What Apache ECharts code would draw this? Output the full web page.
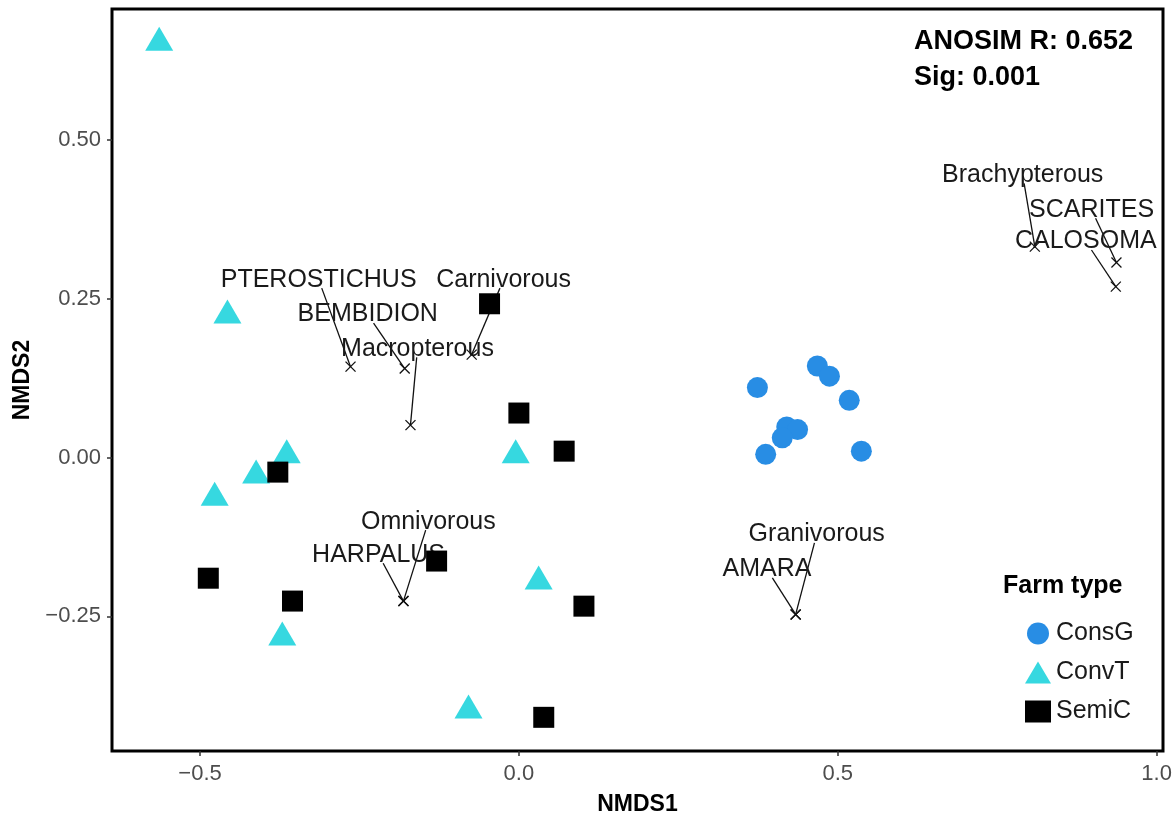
<!DOCTYPE html>
<html>
<head>
<meta charset="utf-8">
<script src="https://cdn.jsdelivr.net/npm/echarts@6/dist/echarts.min.js"></script>
<style>html,body{margin:0;padding:0;background:#fff}#c{width:1176px;height:815px}</style>
</head>
<body>
<div id="c"></div>
<script>
// ---- Data (NMDS site scores) ----
const consG_x = [0.374, 0.468, 0.487, 0.518, 0.420, 0.437, 0.413, 0.387, 0.537];
const consG_y = [0.110, 0.144, 0.128, 0.090, 0.048, 0.044, 0.031, 0.005, 0.010];

const convT_x = [-0.564, -0.457, -0.364, -0.412, -0.477, -0.371, -0.079, -0.005, 0.031];
const convT_y = [0.659, 0.230, 0.010, -0.022, -0.057, -0.277, -0.392, 0.010, -0.189];

const semiC_x = [-0.046, 0.000, 0.071, -0.378, -0.487, -0.355, -0.129, 0.102, 0.039];
const semiC_y = [0.242, 0.070, 0.010, -0.023, -0.190, -0.226, -0.163, -0.234, -0.409];

// ---- Fitted taxa / traits (arrow tips) and their repelled label anchors ----
const traitNames  = ['PTEROSTICHUS', 'BEMBIDION', 'Macropterous', 'Carnivorous', 'Omnivorous', 'HARPALUS', 'Granivorous', 'AMARA', 'Brachypterous', 'SCARITES', 'CALOSOMA'];
const traitX      = [-0.264, -0.179, -0.170, -0.074, -0.181, -0.181, 0.434, 0.434, 0.809, 0.937, 0.936];
const traitY      = [0.143, 0.140, 0.051, 0.162, -0.226, -0.226, -0.247, -0.247, 0.332, 0.307, 0.269];
const traitLabelX = [-0.314, -0.237, -0.159, -0.024, -0.142, -0.220, 0.467, 0.389, 0.790, 0.898, 0.889];
const traitLabelY = [0.280, 0.225, 0.171, 0.280, -0.101, -0.153, -0.121, -0.176, 0.445, 0.390, 0.340];

// ---- Axis ticks / annotation ----
const xTicks = [-0.5, 0.0, 0.5, 1.0];
const yTicks = [-0.25, 0.0, 0.25, 0.5];
const groupNames = ['ConsG', 'ConvT', 'SemiC'];
const anosimR = '0.652';
const anosimSig = '0.001';

// ---- Rendering ----
const FONT = 'Liberation Sans, Arial, Helvetica, sans-serif';
const LABEL_SIZE = 25;
const measureCtx = document.createElement('canvas').getContext('2d');
function textWidth(t, size) { measureCtx.font = size + 'px ' + FONT; return measureCtx.measureText(t).width; }
const fmtMinus = s => s.replace('-', '\u2212');

const zip = (xs, ys) => xs.map((x, i) => [x, ys[i]]);
const traitData = traitX.map((x, i) => [x, traitY[i], traitLabelX[i], traitLabelY[i]]);

const chart = echarts.init(document.getElementById('c'), null, { renderer: 'canvas' });
chart.setOption({
  animation: false,
  backgroundColor: '#fff',
  textStyle: { fontFamily: FONT },
  grid: { left: 112, right: 13, top: 9, bottom: 64, containLabel: false, outerBoundsMode: 'none',
    show: true, borderColor: '#000', borderWidth: 3, backgroundColor: 'transparent' },
  xAxis: {
    type: 'value', min: -0.638, max: 1.010,
    splitLine: { show: false },
    axisLine: { show: false, onZero: false },
    axisTick: { show: true, length: 5, customValues: xTicks, lineStyle: { color: '#333', width: 1.5 } },
    axisLabel: { customValues: xTicks, margin: 12, fontSize: 22, color: '#4D4D4D', fontFamily: FONT,
      formatter: v => fmtMinus(v.toFixed(1)) },
    name: 'NMDS1', nameLocation: 'middle', nameGap: 42,
    nameTextStyle: { fontSize: 23, fontWeight: 'bold', color: '#000', fontFamily: FONT }
  },
  yAxis: {
    type: 'value', min: -0.462, max: 0.706,
    splitLine: { show: false },
    axisLine: { show: false, onZero: false },
    axisTick: { show: true, length: 5, customValues: yTicks, lineStyle: { color: '#333', width: 1.5 } },
    axisLabel: { customValues: yTicks, margin: 11, fontSize: 22, color: '#4D4D4D', fontFamily: FONT,
      formatter: v => fmtMinus(v.toFixed(2)) },
    name: 'NMDS2', nameLocation: 'middle', nameGap: 77, nameRotate: 90,
    nameTextStyle: { fontSize: 23, fontWeight: 'bold', color: '#000', fontFamily: FONT }
  },
  title: {
    text: 'Farm type', left: 1003, top: 574, padding: 0,
    textStyle: { fontSize: 25, fontWeight: 'bold', color: '#000', fontFamily: FONT }
  },
  legend: {
    orient: 'vertical', left: 1025, top: 621, padding: 0,
    itemWidth: 26, itemHeight: 22, itemGap: 14, selectedMode: false,
    data: groupNames,
    textStyle: { fontSize: 25, color: '#1a1a1a', fontFamily: FONT }
  },
  graphic: [
    { type: 'text', left: 914, top: 28, style: { text: 'ANOSIM R: ' + anosimR, font: 'bold 27px ' + FONT, fill: '#000' } },
    { type: 'text', left: 914, top: 64, style: { text: 'Sig: ' + anosimSig, font: 'bold 27px ' + FONT, fill: '#000' } }
  ],
  series: [
    {
      name: 'traits', type: 'custom', z: 1, silent: true,
      data: traitData,
      encode: { x: 0, y: 1 },
      renderItem: function (params, api) {
        const i = params.dataIndex;
        const p = api.coord([api.value(0), api.value(1)]);
        const l = api.coord([api.value(2), api.value(3)]);
        const name = traitNames[i];
        const hw = textWidth(name, LABEL_SIZE) / 2 + 1, hh = LABEL_SIZE * 0.34;
        const dx = p[0] - l[0], dy = p[1] - l[1];
        let t = Infinity;
        if (dx !== 0) t = Math.min(t, hw / Math.abs(dx));
        if (dy !== 0) t = Math.min(t, hh / Math.abs(dy));
        const children = [];
        const ls = { stroke: '#111', lineWidth: 1.3 };
        if (t < 1) children.push({ type: 'line', shape: { x1: l[0] + dx * t, y1: l[1] + dy * t, x2: p[0], y2: p[1] }, style: ls });
        const c = 5;
        children.push({ type: 'line', shape: { x1: p[0] - c, y1: p[1] - c, x2: p[0] + c, y2: p[1] + c }, style: ls });
        children.push({ type: 'line', shape: { x1: p[0] - c, y1: p[1] + c, x2: p[0] + c, y2: p[1] - c }, style: ls });
        children.push({ type: 'text', x: l[0], y: l[1], style: { text: name, align: 'center', verticalAlign: 'middle',
          fontSize: LABEL_SIZE, fontFamily: FONT, fill: '#1a1a1a' } });
        return { type: 'group', children: children };
      }
    },
    { name: 'ConsG', type: 'scatter', z: 3, symbol: 'circle', symbolSize: 21, itemStyle: { color: '#288DE4', opacity: 1 }, data: zip(consG_x, consG_y) },
    { name: 'ConvT', type: 'scatter', z: 3, symbol: 'triangle', symbolSize: [28, 24], itemStyle: { color: '#36D8E0', opacity: 1 }, data: zip(convT_x, convT_y) },
    { name: 'SemiC', type: 'scatter', z: 3, symbol: 'rect', symbolSize: 21, itemStyle: { color: '#000', opacity: 1 }, data: zip(semiC_x, semiC_y) }
  ]
});
</script>
</body>
</html>
